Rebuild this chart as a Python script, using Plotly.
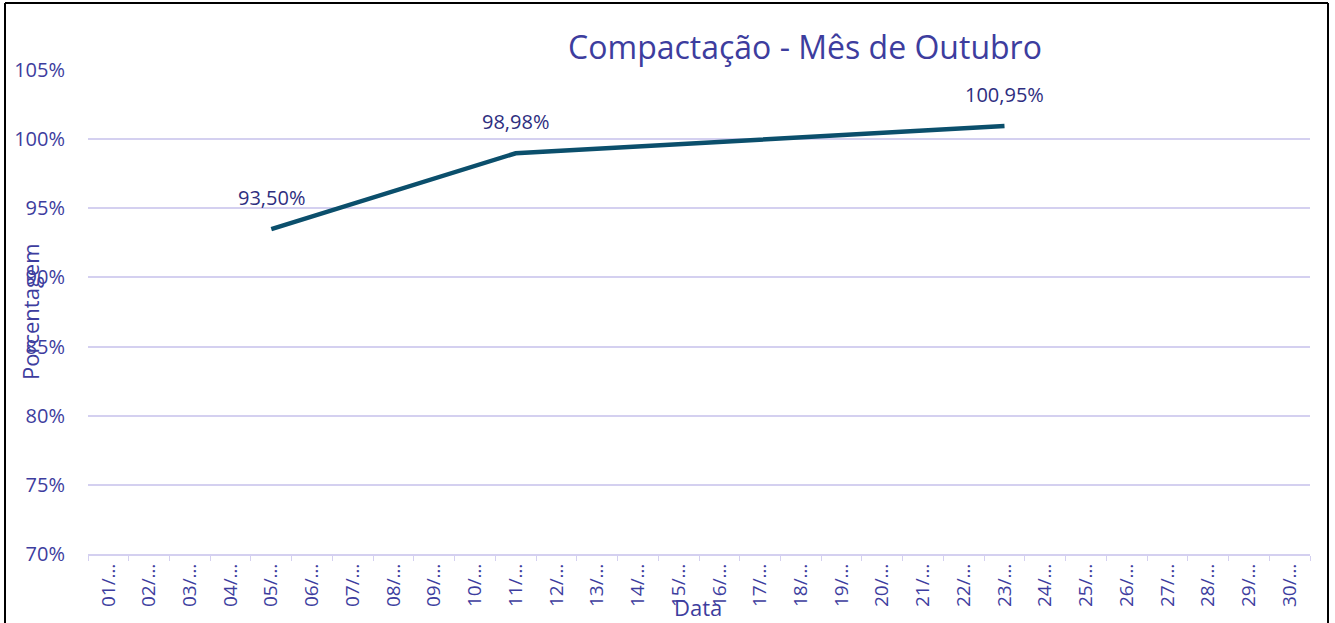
import plotly.graph_objects as go

days = [f"{d:02d}/…" for d in range(1, 31)]
values = [None] * 30
values[4] = 93.50
values[10] = 98.98
values[22] = 100.95
labels = ["" if v is None else f"{v:.2f}".replace(".", ",") + "%" for v in values]
ytick_vals = [70, 75, 80, 85, 90, 95, 100, 105]
ytick_text = [f"{v}%" for v in ytick_vals]

W, H = 1335, 623
L, R, T, B = 88, 1310, 70, 554

def px(x):
    return (x - L) / (R - L)

def py(y):
    return (B - y) / (B - T)

txt = "#3D3D9E"
grid = "#D4D0F0"
font = "Open Sans"

fig = go.Figure()
fig.add_trace(go.Scatter(
    x=days, y=values, mode="lines", connectgaps=True,
    line=dict(color="#0B4F6C", width=4.5),
    hoverinfo="skip", showlegend=False,
))

annotations = []
for d, v, lab in zip(days, values, labels):
    if v is None:
        continue
    annotations.append(dict(x=d, y=v, xref="x", yref="y", text=lab, showarrow=False,
                            yshift=32, xanchor="center", yanchor="middle",
                            font=dict(color="#2E2E80", size=20, family=font)))
annotations.append(dict(x=px(30), y=py(312), xref="paper", yref="paper", text="Porcentagem",
                        textangle=-90, showarrow=False, xanchor="center", yanchor="middle",
                        font=dict(color=txt, size=22, family=font)))
annotations.append(dict(x=px(698), y=py(607), xref="paper", yref="paper", text="Data",
                        showarrow=False, xanchor="center", yanchor="middle",
                        font=dict(color=txt, size=22, family=font)))

fig.update_layout(
    width=W, height=H,
    margin=dict(l=L, r=W - R, t=T, b=H - B, autoexpand=False),
    paper_bgcolor="white", plot_bgcolor="white",
    title=dict(text="Compactação - Mês de Outubro", x=805 / W, xanchor="center", xref="container",
               y=1 - 48 / H, yanchor="middle", yref="container",
               font=dict(color=txt, size=32, family=font)),
    xaxis=dict(type="category", categoryorder="array", categoryarray=days,
               tickangle=-90, tickfont=dict(color=txt, size=19, family=font),
               showgrid=False, showline=True, linecolor=grid, linewidth=2,
               ticks="outside", tickson="boundaries", ticklen=5, tickcolor=grid,
               range=[-0.5, 29.5], automargin=False),
    yaxis=dict(range=[70, 105], tickvals=ytick_vals, ticktext=ytick_text,
               tickfont=dict(color=txt, size=20, family=font),
               showgrid=True, gridcolor=grid, gridwidth=1.5, zeroline=False,
               showline=False, ticks="", ticklabelstandoff=22, automargin=False),
    annotations=annotations,
    shapes=[
        dict(type="line", xref="paper", yref="paper", x0=px(5), x1=px(5), y0=py(3), y1=py(623),
             line=dict(color="black", width=2)),
        dict(type="line", xref="paper", yref="paper", x0=px(5), x1=px(1328), y0=py(3), y1=py(3),
             line=dict(color="black", width=2)),
        dict(type="line", xref="paper", yref="paper", x0=px(1328), x1=px(1328), y0=py(3), y1=py(623),
             line=dict(color="black", width=2)),
    ],
)

fig.write_html("out.html", config={"displayModeBar": False},
               post_script="document.body.style.margin='0';document.body.style.overflow='hidden';")
